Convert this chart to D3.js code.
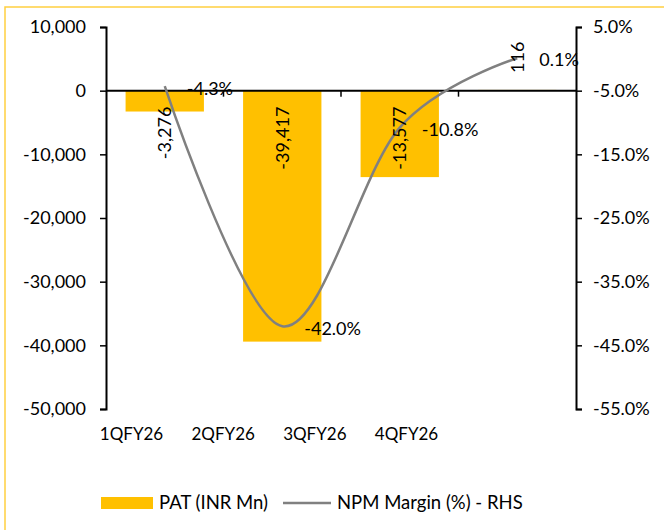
<!DOCTYPE html>
<html>
<head>
<meta charset="utf-8">
<script src="https://cdn.jsdelivr.net/npm/d3@7"></script>
<style>
  body { margin: 0; background: #fff; }
  text { font-family: Lato, "Liberation Sans", sans-serif; fill: #000; }
</style>
</head>
<body>
<script>
// chart data
var quarters = ["1QFY26", "2QFY26", "3QFY26", "4QFY26"];
var pat = [-3276, -39417, -13577, 116];
var npm = [-4.3, -42.0, -10.8, 0.1];
var leftTicks = [10000, 0, -10000, -20000, -30000, -40000, -50000];
var rightTicks = [5, -5, -15, -25, -35, -45, -55];
var legendNames = ["PAT (INR Mn)", "NPM Margin (%) - RHS"];

var W = 664, H = 530;
var plot = { left: 106, right: 576, top: 27, bottom: 409 };

var svg = d3.select("body").append("svg")
    .attr("width", W)
    .attr("height", H);

// outer frame (only top and left edges show)
svg.append("rect")
    .attr("x", 5).attr("y", 7)
    .attr("width", W + 20).attr("height", H + 20)
    .attr("fill", "none")
    .attr("stroke", "#FFCF40")
    .attr("stroke-width", 1.5);

// scales
var x = d3.scaleBand()
    .domain(quarters)
    .range([plot.left, plot.right])
    .paddingInner(1 / 3)
    .paddingOuter(1 / 6);

var xEdge = d3.scaleLinear()
    .domain([0, quarters.length])
    .range([plot.left, plot.right]);

// category labels sit a little left of the bars in the original
var xLabel = d3.scalePoint()
    .domain(quarters)
    .range([131, 406]);

var y = d3.scaleLinear()
    .domain([-50000, 10000])
    .range([plot.bottom, plot.top]);

var y2 = d3.scaleLinear()
    .domain([-55, 5])
    .range([plot.bottom, plot.top]);

// plain hyphen for negatives, like the original
var locale = d3.formatLocale({ decimal: ".", thousands: ",", grouping: [3], currency: ["", ""], minus: "-" });
var fmtNum = locale.format(",.0f");
var fmtPct = function(d) { return locale.format(".1f")(d) + "%"; };

// bars
svg.append("g").selectAll("rect")
    .data(pat)
  .enter().append("rect")
    .attr("x", function(d, i) { return x(quarters[i]); })
    .attr("width", x.bandwidth())
    .attr("y", function(d) { return y(Math.max(0, d)); })
    .attr("height", function(d) { return Math.abs(y(d) - y(0)); })
    .attr("fill", "#FFC000");

// zero line with category ticks
svg.append("line")
    .attr("x1", plot.left).attr("x2", plot.right)
    .attr("y1", y(0)).attr("y2", y(0))
    .attr("stroke", "#000").attr("stroke-width", 2);

svg.append("g").selectAll("line")
    .data(d3.range(1, quarters.length))
  .enter().append("line")
    .attr("x1", function(d) { return xEdge(d); })
    .attr("x2", function(d) { return xEdge(d); })
    .attr("y1", y(0)).attr("y2", y(0) + 6)
    .attr("stroke", "#000").attr("stroke-width", 1.5);

// left axis
var gL = svg.append("g")
    .attr("transform", "translate(" + plot.left + ",0)")
    .call(d3.axisLeft(y).tickValues(leftTicks).tickFormat(fmtNum).tickSize(6).tickPadding(14));

// right axis
var gR = svg.append("g")
    .attr("transform", "translate(" + plot.right + ",0)")
    .call(d3.axisRight(y2).tickValues(rightTicks).tickFormat(fmtPct).tickSize(6).tickPadding(11));

[gL, gR].forEach(function(g) {
  g.select(".domain").attr("stroke", "#000").attr("stroke-width", 2);
  g.selectAll(".tick line").attr("stroke", "#000").attr("stroke-width", 1.5);
  g.selectAll(".tick text").attr("font-size", 18).attr("font-family", "Lato");
});

// category axis labels
var gX = svg.append("g")
    .attr("transform", "translate(0," + (plot.bottom + 16) + ")")
    .call(d3.axisBottom(xLabel).tickSize(0).tickPadding(0));
gX.select(".domain").remove();
gX.selectAll(".tick text").attr("font-size", 17).attr("font-family", "Lato").attr("dy", "0.9em");

// margin line
var line = d3.line()
    .x(function(d, i) { return x(quarters[i]) + x.bandwidth() / 2; })
    .y(function(d) { return y2(d); })
    .curve(d3.curveCatmullRom.alpha(0));

svg.append("path")
    .datum(npm)
    .attr("d", line)
    .attr("fill", "none")
    .attr("stroke", "#808080")
    .attr("stroke-width", 2.5);

// bar labels (rotated)
svg.append("g").selectAll("text")
    .data(pat)
  .enter().append("text")
    .attr("transform", function(d, i) {
      var cx = x(quarters[i]) + x.bandwidth() / 2;
      var cy = d < 0 ? y(0) + 16 : y(d) - 17;
      return "translate(" + cx + "," + cy + ") rotate(-90)";
    })
    .attr("text-anchor", function(d) { return d < 0 ? "end" : "start"; })
    .attr("dy", "0.35em")
    .attr("font-size", 18)
    .text(function(d) { return fmtNum(d); });

// margin labels
svg.append("g").selectAll("text")
    .data(npm)
  .enter().append("text")
    .attr("x", function(d, i) { return x(quarters[i]) + x.bandwidth() / 2 + 22; })
    .attr("y", function(d) { return y2(d) + 2; })
    .attr("dy", "0.35em")
    .attr("font-size", 18)
    .text(fmtPct);

// legend
var leg = svg.append("g").attr("transform", "translate(0,503)");
leg.append("rect")
    .attr("x", 101).attr("y", -6)
    .attr("width", 52).attr("height", 12)
    .attr("fill", "#FFC000");
leg.append("text")
    .attr("x", 159).attr("dy", "0.35em")
    .attr("font-size", 18.5)
    .text(legendNames[0]);
leg.append("line")
    .attr("x1", 283).attr("x2", 331)
    .attr("stroke", "#808080").attr("stroke-width", 2.5);
leg.append("text")
    .attr("x", 337).attr("dy", "0.35em")
    .attr("font-size", 18.5)
    .text(legendNames[1]);
</script>
</body>
</html>
